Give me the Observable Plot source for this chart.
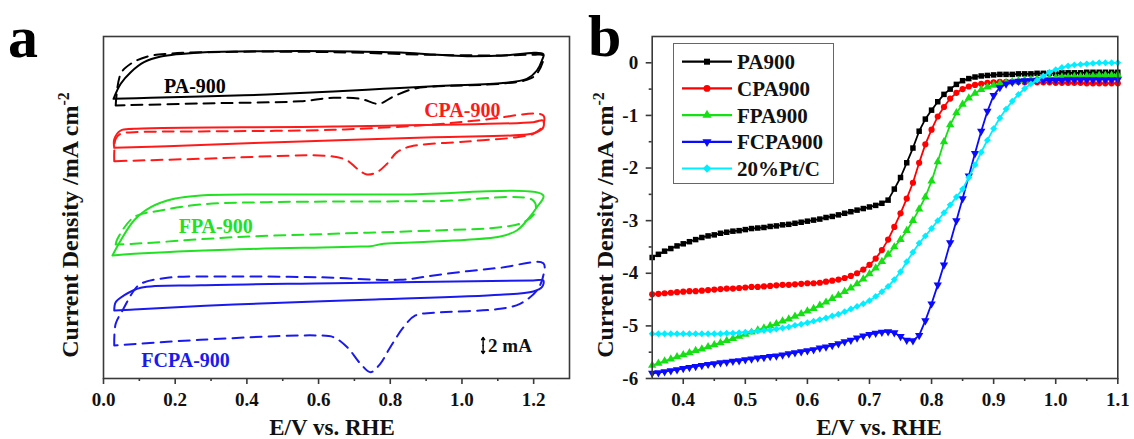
<!DOCTYPE html>
<html>
<head>
<meta charset="utf-8">
<script src="https://cdn.jsdelivr.net/npm/d3@7"></script>
<script src="https://cdn.jsdelivr.net/npm/@observablehq/plot@0.6"></script>
<style>
  html, body { margin: 0; padding: 0; background: #fff; }
  #wrap { position: relative; width: 1134px; height: 439px; overflow: hidden; background: #fff; }
  #wrap svg { position: absolute; top: 0; overflow: visible; }
</style>
</head>
<body>
<div id="wrap"></div>
<script>
// ================= DATA =================
// Panel a: cyclic voltammograms, [E (V vs RHE), offset current (mA)]; solid = N2, dashed = O2
const pa900Solid = [[0.028,34.96],[0.048,36.84],[0.076,38.29],[0.113,39.54],[0.160,40.25],[0.271,40.75],[0.457,40.91],[0.642,40.91],[0.828,40.75],[0.920,40.50],[1.014,40.29],[1.107,40.34],[1.227,40.54],[1.223,39.75],[1.209,38.50],[1.181,37.46],[1.107,36.91],[0.921,36.54],[0.781,36.21],[0.641,35.88],[0.457,35.50],[0.271,35.25],[0.132,35.09],[0.028,34.96]];
const pa900Dash = [[0.034,34.13],[0.048,38.09],[0.076,39.34],[0.123,40.25],[0.178,40.59],[0.364,40.84],[0.642,40.79],[0.921,40.46],[1.107,40.38],[1.199,40.46],[1.227,40.38],[1.209,38.09],[1.181,37.34],[1.107,36.84],[0.921,36.50],[0.865,36.21],[0.809,35.25],[0.768,34.34],[0.717,34.96],[0.642,35.09],[0.550,34.66],[0.271,34.38],[0.034,34.13]];
const cpa900Solid = [[0.030,28.84],[0.030,29.91],[0.048,31.00],[0.085,31.21],[0.642,31.50],[1.199,32.04],[1.226,32.25],[1.227,31.41],[1.209,30.79],[1.181,30.50],[0.921,30.16],[0.550,29.63],[0.178,29.04],[0.030,28.84]];
const cpa900Dash = [[0.030,27.16],[0.030,28.29],[0.034,29.96],[0.048,30.59],[0.085,30.79],[0.271,30.88],[0.642,31.09],[0.921,31.75],[1.060,32.34],[1.227,32.88],[1.223,31.41],[1.199,30.59],[1.153,30.16],[1.014,29.63],[0.856,29.00],[0.819,28.29],[0.791,26.84],[0.763,25.79],[0.735,25.50],[0.708,26.21],[0.680,27.25],[0.633,27.79],[0.271,27.46],[0.030,27.16]];
const fpa900Solid = [[0.025,15.38],[0.048,17.25],[0.085,19.75],[0.132,21.41],[0.197,22.46],[0.271,22.88],[0.457,23.00],[0.828,23.00],[1.227,22.88],[1.209,21.41],[1.181,19.75],[1.153,18.50],[1.107,17.75],[1.014,17.34],[0.875,17.04],[0.782,16.84],[0.745,16.54],[0.717,16.50],[0.642,16.41],[0.364,16.13],[0.085,15.59],[0.025,15.38]];
const fpa900Dash = [[0.034,16.75],[0.039,17.46],[0.085,20.16],[0.160,21.00],[0.271,21.75],[0.457,22.04],[0.921,22.16],[1.199,22.25],[1.204,20.79],[1.172,19.54],[1.107,18.91],[0.921,18.50],[0.642,18.09],[0.364,17.66],[0.085,16.84],[0.034,16.75]];
const fcpa900Solid = [[0.030,8.50],[0.034,9.54],[0.057,10.38],[0.104,11.34],[0.271,11.66],[0.642,11.91],[1.199,12.25],[1.227,12.25],[1.223,11.41],[1.199,10.88],[1.107,10.46],[0.735,9.84],[0.364,9.25],[0.085,8.63],[0.030,8.50]];
const fcpa900Dash = [[0.030,4.13],[0.034,6.84],[0.053,8.50],[0.085,11.00],[0.104,11.84],[0.178,12.59],[0.364,12.75],[0.596,12.66],[0.828,12.34],[0.921,12.88],[1.014,13.41],[1.107,13.84],[1.227,14.41],[1.227,12.88],[1.209,11.00],[1.162,9.34],[1.107,8.71],[0.921,8.21],[0.870,7.88],[0.837,6.41],[0.800,3.91],[0.772,1.84],[0.745,0.79],[0.717,1.84],[0.680,3.91],[0.642,5.16],[0.596,5.38],[0.271,4.84],[0.030,4.13]];
const labelsA = [
  {t: "PA-900", E: 0.255, j: 36.5, key: "PA"},
  {t: "CPA-900", E: 1.001, j: 33.5, key: "CPA"},
  {t: "FPA-900", E: 0.313, j: 19.0, key: "FPA"},
  {t: "FCPA-900", E: 0.229, j: 2.25, key: "FCPA"}
];
const scaleBarA = {E: 1.059, j1: 3.125, j2: 5.125, text: "2 mA"};
const xTicksA = [0.0, 0.2, 0.4, 0.6, 0.8, 1.0, 1.2];
const xMinorA = [0.1, 0.3, 0.5, 0.7, 0.9, 1.1];

// Panel b: LSV curves
const potentialB = [0.35,0.36,0.37,0.38,0.39,0.40,0.41,0.42,0.43,0.44,0.45,0.46,0.47,0.48,0.49,0.50,0.51,0.52,0.53,0.54,0.55,0.56,0.57,0.58,0.59,0.60,0.61,0.62,0.63,0.64,0.65,0.66,0.67,0.68,0.69,0.70,0.71,0.72,0.73,0.74,0.75,0.76,0.77,0.78,0.79,0.80,0.81,0.82,0.83,0.84,0.85,0.86,0.87,0.88,0.89,0.90,0.91,0.92,0.93,0.94,0.95,0.96,0.97,0.98,0.99,1.00,1.01,1.02,1.03,1.04,1.05,1.06,1.07,1.08,1.09,1.10];
const jPA900 = [-3.70,-3.64,-3.58,-3.53,-3.48,-3.44,-3.40,-3.36,-3.32,-3.29,-3.27,-3.24,-3.22,-3.20,-3.19,-3.17,-3.15,-3.14,-3.13,-3.11,-3.10,-3.08,-3.07,-3.05,-3.03,-3.01,-2.99,-2.97,-2.94,-2.92,-2.89,-2.86,-2.83,-2.80,-2.77,-2.74,-2.71,-2.67,-2.61,-2.40,-2.18,-1.90,-1.62,-1.30,-1.07,-0.90,-0.74,-0.60,-0.50,-0.41,-0.34,-0.30,-0.27,-0.25,-0.24,-0.23,-0.22,-0.22,-0.22,-0.21,-0.21,-0.21,-0.20,-0.20,-0.20,-0.20,-0.19,-0.19,-0.19,-0.19,-0.18,-0.18,-0.18,-0.18,-0.18,-0.18];
const jCPA900 = [-4.40,-4.39,-4.38,-4.37,-4.36,-4.35,-4.34,-4.34,-4.33,-4.32,-4.31,-4.30,-4.29,-4.29,-4.28,-4.27,-4.26,-4.26,-4.25,-4.24,-4.23,-4.22,-4.22,-4.21,-4.20,-4.19,-4.19,-4.18,-4.16,-4.14,-4.12,-4.09,-4.05,-4.00,-3.93,-3.84,-3.72,-3.56,-3.36,-3.12,-2.86,-2.58,-2.28,-1.90,-1.55,-1.27,-1.02,-0.84,-0.68,-0.57,-0.50,-0.45,-0.42,-0.40,-0.38,-0.37,-0.36,-0.36,-0.36,-0.36,-0.37,-0.37,-0.37,-0.37,-0.37,-0.38,-0.38,-0.38,-0.38,-0.38,-0.39,-0.39,-0.39,-0.39,-0.39,-0.39];
const jFPA900 = [-5.75,-5.71,-5.67,-5.63,-5.59,-5.55,-5.51,-5.47,-5.44,-5.40,-5.36,-5.32,-5.28,-5.24,-5.20,-5.16,-5.12,-5.08,-5.04,-5.00,-4.96,-4.91,-4.87,-4.82,-4.77,-4.72,-4.67,-4.61,-4.55,-4.48,-4.42,-4.35,-4.28,-4.20,-4.11,-4.01,-3.90,-3.78,-3.64,-3.50,-3.36,-3.19,-3.00,-2.78,-2.55,-2.25,-1.88,-1.50,-1.18,-0.95,-0.79,-0.67,-0.58,-0.51,-0.46,-0.43,-0.40,-0.38,-0.36,-0.34,-0.33,-0.32,-0.31,-0.30,-0.29,-0.28,-0.27,-0.27,-0.26,-0.26,-0.25,-0.25,-0.24,-0.24,-0.24,-0.23];
const jFCPA900 = [-5.90,-5.89,-5.87,-5.85,-5.83,-5.81,-5.79,-5.77,-5.75,-5.73,-5.72,-5.70,-5.69,-5.67,-5.66,-5.64,-5.63,-5.61,-5.60,-5.58,-5.57,-5.55,-5.53,-5.51,-5.49,-5.47,-5.45,-5.42,-5.40,-5.37,-5.34,-5.30,-5.27,-5.23,-5.19,-5.16,-5.14,-5.12,-5.11,-5.13,-5.20,-5.27,-5.28,-5.18,-4.90,-4.58,-4.22,-3.84,-3.42,-3.00,-2.58,-2.15,-1.72,-1.30,-0.92,-0.62,-0.47,-0.40,-0.37,-0.35,-0.34,-0.34,-0.33,-0.33,-0.33,-0.33,-0.33,-0.32,-0.32,-0.32,-0.32,-0.32,-0.32,-0.32,-0.32,-0.32];
const jPtC = [-5.15,-5.15,-5.15,-5.15,-5.15,-5.15,-5.15,-5.15,-5.15,-5.15,-5.15,-5.15,-5.14,-5.14,-5.13,-5.12,-5.11,-5.10,-5.09,-5.08,-5.06,-5.04,-5.02,-4.99,-4.97,-4.94,-4.91,-4.88,-4.85,-4.81,-4.78,-4.73,-4.68,-4.63,-4.58,-4.52,-4.44,-4.35,-4.25,-4.12,-3.97,-3.78,-3.60,-3.43,-3.29,-3.15,-3.00,-2.85,-2.70,-2.55,-2.40,-2.18,-1.94,-1.70,-1.47,-1.25,-1.05,-0.88,-0.73,-0.60,-0.49,-0.40,-0.33,-0.25,-0.18,-0.13,-0.09,-0.06,-0.04,-0.03,-0.02,-0.01,0.00,0.00,0.00,0.00];
const seriesNamesB = ["PA900", "CPA900", "FPA900", "FCPA900", "20%Pt/C"];
const xTicksB = [0.4, 0.5, 0.6, 0.7, 0.8, 0.9, 1.0, 1.1];
const xMinorB = [0.45, 0.55, 0.65, 0.75, 0.85, 0.95, 1.05];
const yTicksB = [0, -1, -2, -3, -4, -5, -6];
const yMinorB = [-0.5, -1.5, -2.5, -3.5, -4.5, -5.5];

// ================= STYLE =================
const FONT = '"Liberation Serif", "Times New Roman", serif';
const colA = {PA: "#000000", CPA: "#ff1a1a", FPA: "#22e022", FCPA: "#1a1aee"};
const colB = ["#000000", "#ff0000", "#14e014", "#0a0aff", "#00eeff"];
const frameColor = "#3a3a3a";

const triangleDown = {
  draw(context, size) {
    const s3 = Math.sqrt(3);
    const y = -Math.sqrt(size / (s3 * 3));
    context.moveTo(0, -y * 2);
    context.lineTo(-s3 * y, y);
    context.lineTo(s3 * y, y);
    context.closePath();
  }
};
const symbolsB = ["square", "circle", "triangle", triangleDown, "diamond2"];
const d3SymbolsB = [d3.symbolSquare, d3.symbolCircle, d3.symbolTriangle, triangleDown, d3.symbolSquare];

const plotStyle = {fontFamily: FONT, fontSize: "19px", fontWeight: "bold", color: "#111", background: "transparent", overflow: "visible"};

// ================= PANEL A =================
const curvesA = [
  {data: pa900Solid, key: "PA", dashed: false},
  {data: pa900Dash, key: "PA", dashed: true},
  {data: cpa900Solid, key: "CPA", dashed: false},
  {data: cpa900Dash, key: "CPA", dashed: true},
  {data: fpa900Solid, key: "FPA", dashed: false},
  {data: fpa900Dash, key: "FPA", dashed: true},
  {data: fcpa900Solid, key: "FCPA", dashed: false},
  {data: fcpa900Dash, key: "FCPA", dashed: true}
];

const plotA = Plot.plot({
  width: 575, height: 439,
  marginLeft: 103, marginRight: 6, marginTop: 36, marginBottom: 61,
  x: {domain: [0, 1.3]},
  y: {domain: [0, 42.75], axis: null},
  style: plotStyle,
  marks: [
    ...curvesA.map(c => Plot.line(c.data, {
      x: d => d[0], y: d => d[1], stroke: colA[c.key], strokeWidth: 2,
      strokeDasharray: c.dashed ? "11,7" : undefined, curve: "catmull-rom"
    })),
    ...labelsA.map(l => Plot.text([l], {
      x: "E", y: "j", text: "t", fill: colA[l.key], fontSize: 20, fontWeight: "bold", fontFamily: FONT
    })),
    // double-headed scale bar (two arrows from its midpoint)
    Plot.arrow([scaleBarA], {x1: "E", x2: "E", y1: d => (d.j1 + d.j2) / 2, y2: "j2", stroke: "#000", strokeWidth: 1.4, headLength: 6, headAngle: 70}),
    Plot.arrow([scaleBarA], {x1: "E", x2: "E", y1: d => (d.j1 + d.j2) / 2, y2: "j1", stroke: "#000", strokeWidth: 1.4, headLength: 6, headAngle: 70}),
    Plot.text([scaleBarA], {x: "E", y: d => (d.j1 + d.j2) / 2, text: "text", dx: 5, textAnchor: "start", fontSize: 19, fontWeight: "bold", fontFamily: FONT, fill: "#111"}),
    Plot.frame({stroke: frameColor, strokeWidth: 1.6}),
    Plot.axisX({ticks: xTicksA, tickSize: 6, tickPadding: 8, tickFormat: d => d.toFixed(1), label: null, stroke: frameColor, strokeWidth: 1.6}),
    Plot.axisX({ticks: xMinorA, tickSize: 3, tickFormat: () => "", label: null, stroke: frameColor, strokeWidth: 1.6})
  ]
});

// ================= PANEL B =================
const jSeriesB = [jPA900, jCPA900, jFPA900, jFCPA900, jPtC];
const seriesB = seriesNamesB.map((name, i) => ({
  name, color: colB[i], symbol: symbolsB[i],
  pts: potentialB.map((E, k) => ({E, j: jSeriesB[i][k]}))
}));

const plotB = Plot.plot({
  width: 559, height: 439,
  marginLeft: 76.7, marginRight: 16.7, marginTop: 36, marginBottom: 61,
  x: {domain: [0.35, 1.1]},
  y: {domain: [-6, 0.5]},
  style: plotStyle,
  marks: [
    ...seriesB.flatMap(s => [
      Plot.line(s.pts, {x: "E", y: "j", stroke: s.color, strokeWidth: 1.8}),
      Plot.dot(s.pts, {x: "E", y: "j", symbol: s.symbol, r: 3.1, fill: s.color, stroke: "none"})
    ]),
    Plot.frame({stroke: frameColor, strokeWidth: 1.6}),
    Plot.axisX({ticks: xTicksB, tickSize: 6, tickPadding: 8, tickFormat: d => d.toFixed(1), label: null, stroke: frameColor, strokeWidth: 1.6}),
    Plot.axisX({ticks: xMinorB, tickSize: 3, tickFormat: () => "", label: null, stroke: frameColor, strokeWidth: 1.6}),
    Plot.axisY({ticks: yTicksB, tickSize: 6, tickPadding: 8, tickFormat: d => String(d), label: null, stroke: frameColor, strokeWidth: 1.6}),
    Plot.axisY({ticks: yMinorB, tickSize: 3, tickFormat: () => "", label: null, stroke: frameColor, strokeWidth: 1.6})
  ]
});

const wrap = document.getElementById("wrap");
plotA.style.left = "0px";
plotB.style.left = "575px";
wrap.appendChild(plotA);
wrap.appendChild(plotB);

// ================= TITLES =================
function addTitles(svg, o) {
  const s = d3.select(svg);
  const yt = s.append("text")
    .attr("transform", `translate(${o.yx},${o.yy}) rotate(-90)`)
    .attr("text-anchor", "middle")
    .attr("font-family", FONT).attr("font-weight", "bold").attr("font-size", 24).attr("fill", "#111");
  yt.append("tspan").text("Current Density /mA cm");
  yt.append("tspan").attr("dy", "-0.55em").attr("font-size", 16).text("-2");
  s.append("text")
    .attr("x", o.xx).attr("y", o.xy).attr("text-anchor", "middle")
    .attr("font-family", FONT).attr("font-weight", "bold").attr("font-size", 23).attr("fill", "#111")
    .text("E/V vs. RHE");
  s.append("text")
    .attr("x", o.px).attr("y", o.py).attr("text-anchor", "start")
    .attr("font-family", FONT).attr("font-weight", "bold").attr("font-size", 60).attr("fill", "#000")
    .text(o.panel);
}
addTitles(plotA, {yx: 78, yy: 225, xx: 332, xy: 435, px: 8, py: 57, panel: "a"});
addTitles(plotB, {yx: 38, yy: 225, xx: 304, xy: 435, px: 13, py: 56, panel: "b"});

// ================= LEGEND (panel b) =================
const leg = d3.select(wrap).append("svg")
  .attr("width", 161).attr("height", 141)
  .style("left", "673px").style("top", "43px");
leg.append("rect").attr("x", 0.5).attr("y", 0.5).attr("width", 160).attr("height", 140)
  .attr("fill", "#fff").attr("stroke", "#666").attr("stroke-width", 1);
seriesNamesB.forEach((name, i) => {
  const cy = 18.7 + i * 26.7;
  const g = leg.append("g");
  g.append("line").attr("x1", 9).attr("x2", 59).attr("y1", cy).attr("y2", cy)
    .attr("stroke", colB[i]).attr("stroke-width", 2.2);
  g.append("path").attr("transform", `translate(34,${cy})${i === 4 ? " rotate(45)" : ""}`)
    .attr("d", d3.symbol(d3SymbolsB[i], 3.4 * 3.4 * Math.PI)())
    .attr("fill", colB[i]);
  g.append("text").attr("x", 64).attr("y", cy + 7.5).attr("text-anchor", "start")
    .attr("font-family", FONT).attr("font-weight", "bold").attr("font-size", 21).attr("fill", "#111")
    .text(name);
});
</script>
</body>
</html>
